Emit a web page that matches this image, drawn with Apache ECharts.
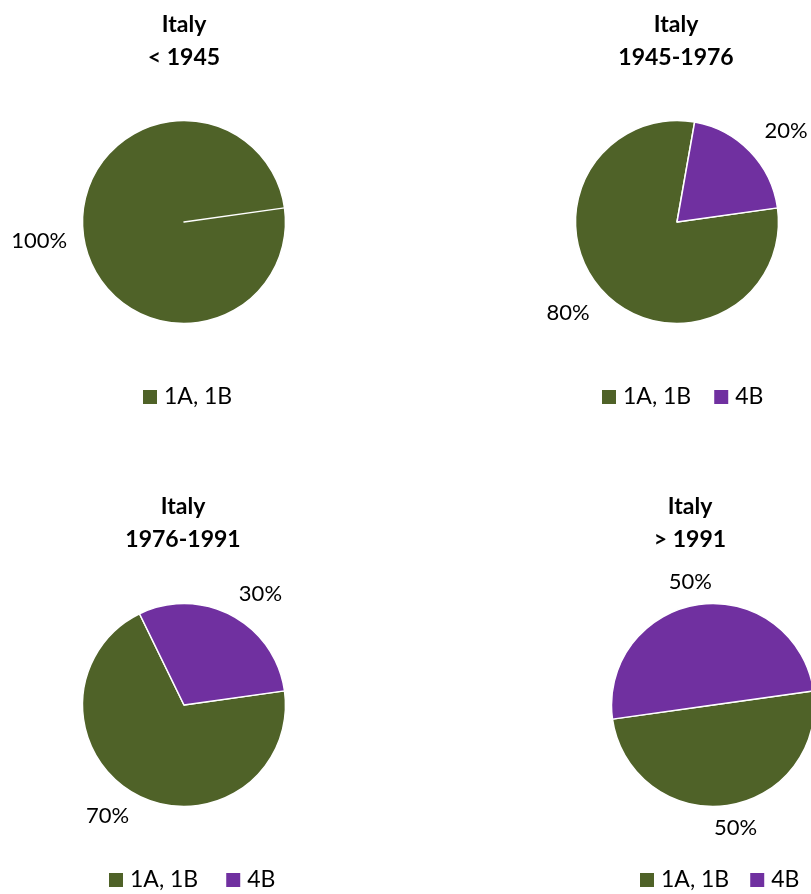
<!DOCTYPE html>
<html>
<head>
<meta charset="utf-8">
<script src="https://cdn.jsdelivr.net/npm/echarts@6/dist/echarts.min.js"></script>
<style>
  html, body { margin: 0; padding: 0; background: #fff; }
  #chart { width: 811px; height: 894px; }
</style>
</head>
<body>
<div id="chart"></div>
<script>
// ---- data ----
const categories = ['1A, 1B', '4B'];
const periods = ['< 1945', '1945-1976', '1976-1991', '> 1991'];
const country = 'Italy';
const share_1A1B = [100, 80, 70, 50];
const share_4B = [0, 20, 30, 50];

// ---- style ----
const GREEN = '#4F6228';
const PURPLE = '#7030A0';
const FONT = 'Lato, "Open Sans", sans-serif';
const LABEL_GAP = 7.5;   // from rim to the label anchor
const LABEL_PAD_X = 18;  // label box padding (Excel-like)
const LABEL_PAD_Y = 8;

const panels = [
  { center: [184, 222], titleX: 184, titleY: 8,   legendX: 143, legendY: 385, legendGap: 28, legendNames: ['1A, 1B'] },
  { center: [677, 222], titleX: 676, titleY: 8,   legendX: 602, legendY: 385, legendGap: 23, legendNames: ['1A, 1B', '4B'] },
  { center: [184, 705], titleX: 183, titleY: 490, legendX: 109, legendY: 868, legendGap: 28, legendNames: ['1A, 1B', '4B'] },
  { center: [713, 705], titleX: 690, titleY: 490, legendX: 640, legendY: 868, legendGap: 21, legendNames: ['1A, 1B', '4B'] }
];

function clamp1(t) { return Math.max(-1, Math.min(1, t)); }

// Excel-like "best fit" placement of outside labels, from the slice's mid direction
function placeLabel(params) {
  const pts = params.labelLinePoints;
  if (!pts || pts.length < 2) return {};
  const p0 = pts[0], p1 = pts[1];
  let ux = p1[0] - p0[0], uy = p1[1] - p0[1];
  const len = Math.hypot(ux, uy) || 1;
  ux /= len; uy /= len;
  const W = params.labelRect.width + LABEL_PAD_X;
  const H = params.labelRect.height + LABEL_PAD_Y;
  const cx = p0[0] + ux * LABEL_GAP + W / 2 * clamp1(1.76 * ux);
  const cy = p0[1] + uy * LABEL_GAP + H / 2 * clamp1(1.76 * uy);
  return { x: cx, y: cy, align: 'center', verticalAlign: 'middle' };
}

const titles = [], legends = [], series = [];
panels.forEach((p, i) => {
  titles.push({
    text: country + '\n' + periods[i],
    left: p.titleX, top: p.titleY, textAlign: 'center', padding: 0,
    textStyle: { fontFamily: FONT, fontWeight: 'bold', fontSize: 23, lineHeight: 33, color: '#000' }
  });
  legends.push({
    data: p.legendNames, left: p.legendX, top: p.legendY, width: 180, padding: 0,
    orient: 'horizontal', icon: 'rect', itemWidth: 14, itemHeight: 14, itemGap: p.legendGap,
    selectedMode: false,
    itemStyle: { borderWidth: 0 },
    textStyle: { fontFamily: FONT, fontSize: 23, lineHeight: 24, color: '#000', padding: [0, 0, 0, 2] }
  });
  const data = [
    { name: categories[0], value: share_1A1B[i], itemStyle: { color: GREEN } },
    { name: categories[1], value: share_4B[i], itemStyle: { color: PURPLE },
      label: { show: share_4B[i] > 0 }, labelLine: { show: share_4B[i] > 0 } }
  ];
  series.push({
    type: 'pie', center: p.center, radius: 101.5, startAngle: 8, clockwise: true,
    percentPrecision: 0, silent: true, animation: false,
    avoidLabelOverlap: false,
    itemStyle: { borderColor: '#fff', borderWidth: 1.5 },
    label: { show: true, position: 'outside', formatter: '{d}%', fontFamily: FONT, fontSize: 22, color: '#000' },
    labelLine: { show: true, length: 10, length2: 0, lineStyle: { opacity: 0 } },
    labelLayout: placeLabel,
    data: data
  });
});

const chart = echarts.init(document.getElementById('chart'), null, { renderer: 'canvas' });
chart.setOption({
  backgroundColor: '#fff',
  animation: false,
  title: titles,
  legend: legends,
  series: series
});
</script>
</body>
</html>
